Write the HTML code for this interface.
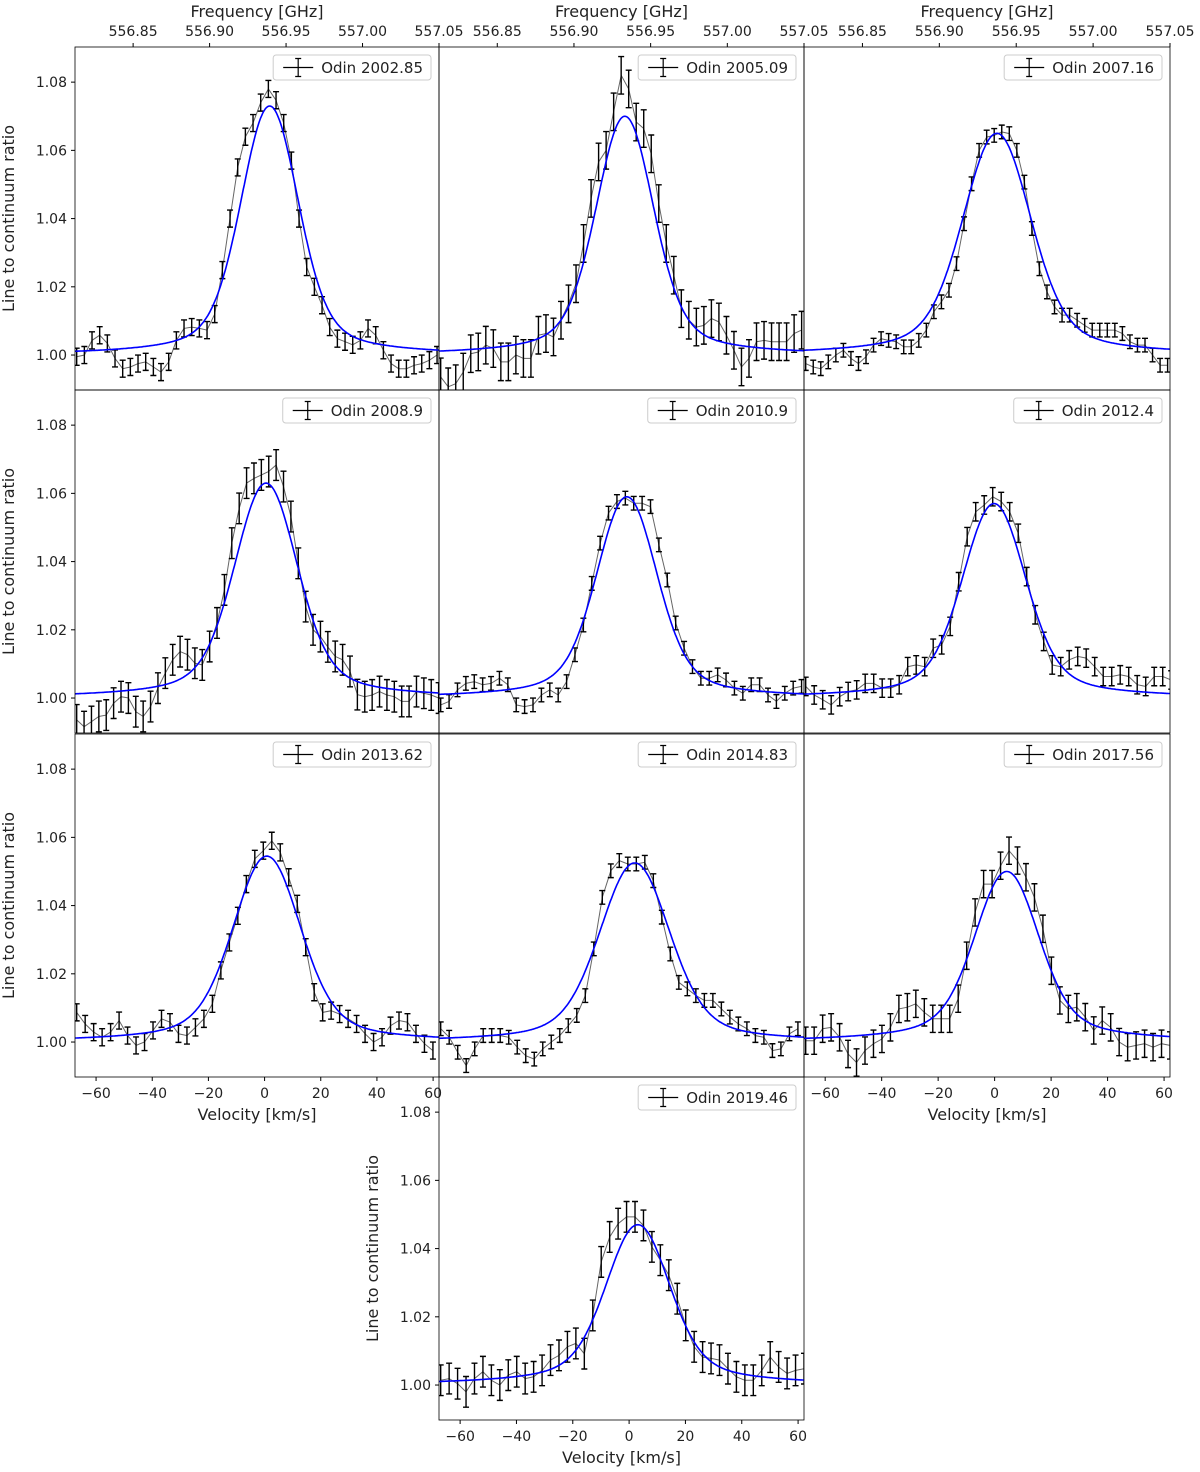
<!DOCTYPE html>
<html><head><meta charset="utf-8"><style>
body{margin:0;background:#fff;}
svg{display:block;font-family:"DejaVu Sans","Liberation Sans",sans-serif;}
</style></head><body>
<svg id="chart" width="1200" height="1472"></svg>
<script>
const panelLabels=["Odin 2002.85","Odin 2005.09","Odin 2007.16","Odin 2008.9","Odin 2010.9","Odin 2012.4","Odin 2013.62","Odin 2014.83","Odin 2017.56","Odin 2019.46"];
const vStart=[-66.9,-66.9,-66.9,-66.9,-66.9,-66.9,-66.9,-66.9,-66.9,-66.9];
const vStep=[2.73,2.67,2.67,2.63,2.98,3.01,3.02,3.02,3.0,3.0];
const errHalf=[0.0025,0.0055,0.002,0.0045,0.002,0.0027,0.0025,0.002,0.004,0.0045];
const fitAmp=[0.073,0.070,0.065,0.063,0.059,0.057,0.0545,0.0525,0.050,0.047];
const fitCen=[1.8,-1.5,0.8,0.5,-0.8,-0.2,0.8,2.0,4.3,3.1];
const fitWg=[11.5,11.5,13.5,12.5,12,12.5,13.5,14,12.5,12.5];
const fitWl=[16,16,19,18,17,18,19,19,20,20];
const fitEta=[0.3,0.3,0.3,0.3,0.3,0.3,0.3,0.3,0.3,0.3];
const d0=[0.9995,1.000,1.0043,1.0058,1.0034,0.999,0.996,0.9965,0.9975,0.998,0.9965,0.995,0.998,1.0043,1.0078,1.0082,1.0078,1.0073,1.012,1.0249,1.040,1.055,1.064,1.068,1.074,1.078,1.0747,1.068,1.057,1.040,1.0258,1.020,1.0146,1.0082,1.0048,1.0039,1.003,1.0043,1.0078,1.0058,1.0014,0.9975,0.996,0.996,0.997,0.9975,0.9985,1.000];
const d1=[0.9936,0.9907,0.9916,0.995,1.0004,1.0009,1.0029,1.0019,0.998,0.998,1.0,0.999,0.999,1.0058,1.0063,1.0053,1.0102,1.015,1.0209,1.0327,1.0459,1.0566,1.060,1.0713,1.082,1.078,1.0683,1.0664,1.059,1.0444,1.0327,1.0234,1.0136,1.0102,1.0082,1.0087,1.0107,1.0097,1.0058,1.0014,0.9965,0.999,1.0039,1.0043,1.0039,1.0039,1.0039,1.0063,1.0073];
const d2=[0.9975,0.9965,0.996,0.998,1.0,1.0014,0.999,0.9975,0.9995,1.0029,1.0048,1.0043,1.0039,1.0024,1.0024,1.0043,1.0073,1.0127,1.0156,1.019,1.0268,1.0385,1.0502,1.06,1.0639,1.0644,1.0654,1.0649,1.06,1.0507,1.0371,1.0253,1.0185,1.0141,1.0117,1.0117,1.0102,1.0087,1.0073,1.0073,1.0073,1.0073,1.0063,1.0039,1.0029,1.0029,1.0,0.997,0.997];
const d3=[0.9936,0.9916,0.9931,0.9946,0.995,0.9985,1.0004,1.0,0.996,0.9946,0.9975,1.0029,1.0073,1.0112,1.0136,1.0127,1.0102,1.0097,1.0151,1.022,1.0317,1.0454,1.0556,1.063,1.0644,1.0654,1.0664,1.0683,1.062,1.0532,1.0395,1.0268,1.02,1.018,1.015,1.0122,1.0112,1.0078,1.001,1.0004,1.0009,1.0019,1.0009,1.0004,0.999,0.999,1.0019,1.0014,1.0009,1.0];
const d4=[0.998,0.999,1.0024,1.0043,1.0048,1.0039,1.0043,1.0058,1.0039,0.998,0.9975,0.998,1.0009,1.0024,1.0009,1.0048,1.0127,1.0214,1.0336,1.0454,1.0542,1.0576,1.0586,1.0571,1.0571,1.0561,1.0449,1.0346,1.022,1.0146,1.0092,1.0058,1.0058,1.0068,1.0053,1.0029,1.0014,1.0039,1.0039,1.0009,0.999,1.0014,1.0029,1.0034];
const d5=[1.0034,1.0009,0.9995,0.998,1.0004,1.0019,1.0024,1.0043,1.0043,1.0029,1.0029,1.0039,1.0092,1.0097,1.0092,1.0146,1.0156,1.021,1.0341,1.0473,1.0546,1.0566,1.059,1.0576,1.0546,1.0483,1.0356,1.0244,1.0166,1.0097,1.0092,1.0112,1.0122,1.0117,1.0092,1.0063,1.0063,1.0068,1.0063,1.0039,1.0034,1.0063,1.0063,1.0053];
const d6=[1.0087,1.0053,1.0029,1.0014,1.0029,1.0063,1.0019,0.999,1.0,1.0034,1.0068,1.0058,1.0024,1.0019,1.0043,1.0068,1.0112,1.021,1.0292,1.037,1.0463,1.0537,1.0561,1.059,1.0556,1.0483,1.0405,1.0278,1.0146,1.0087,1.0092,1.0082,1.0068,1.0053,1.0024,1.0,1.0014,1.0048,1.0063,1.0058,1.0024,0.9995,0.9975];
const d7=[1.0039,1.0014,0.997,0.9931,0.998,1.0019,1.0019,1.0019,1.0014,0.9985,0.996,0.995,0.998,1.0,1.0019,1.0048,1.0078,1.0136,1.0273,1.0424,1.0502,1.0532,1.0522,1.0522,1.0527,1.0473,1.0366,1.0258,1.0175,1.0156,1.0136,1.0122,1.0122,1.0097,1.0073,1.0053,1.0039,1.0019,1.0014,0.9975,0.998,1.0024,1.0039];
const d8=[1.0004,1.0004,1.0039,1.0043,1.0014,0.9965,0.994,0.9975,0.9995,1.0009,1.0043,1.0097,1.0102,1.0112,1.0087,1.0068,1.0068,1.0068,1.0127,1.0253,1.038,1.0463,1.0463,1.0517,1.0561,1.0532,1.0483,1.0424,1.0332,1.0209,1.0122,1.0097,1.0102,1.0073,1.0034,1.0063,1.0043,1.0,0.9985,0.999,0.9995,0.9985,0.9995,0.999];
const d9=[1.0014,1.0019,1.0004,0.998,1.0019,1.0039,1.0014,1.0,1.0029,1.0039,1.0019,1.0024,1.0043,1.0073,1.0087,1.0112,1.0122,1.0092,1.0204,1.0361,1.0434,1.0473,1.0493,1.0493,1.0468,1.0405,1.0366,1.0322,1.0253,1.0175,1.0112,1.0082,1.0078,1.0073,1.0048,1.0024,1.0014,1.0014,1.0043,1.0082,1.0053,1.0034,1.0043,1.0048];
const yTickVals=[1.00,1.02,1.04,1.06,1.08];
const yTickText=["1.00","1.02","1.04","1.06","1.08"];
const vTickVals=[-60,-40,-20,0,20,40,60];
const vTickText=["−60","−40","−20","0","20","40","60"];
const fTickVals=[556.85,556.90,556.95,557.00,557.05];
const fTickText=["556.85","556.90","556.95","557.00","557.05"];
const allData=[d0,d1,d2,d3,d4,d5,d6,d7,d8,d9];

const NS="http://www.w3.org/2000/svg";
const svg=document.getElementById("chart");
function mk(tag,attrs,parent){const e=document.createElementNS(NS,tag);for(const k in attrs)e.setAttribute(k,attrs[k]);(parent||svg).appendChild(e);return e;}
const VMIN=-67.5,VMAX=62.1,YMIN=0.98975,YMAX=1.0903,FMIN=556.812,FMAX=557.05;
const layout=[[75,47],[439,47],[804,47],[75,390],[439,390],[804,390],[75,734],[439,734],[804,734],[439,1077]];
const PW=[364,365,366,364,365,366,364,365,366,365],PH=343;

layout.forEach((pos,i)=>{
  const [px,py]=pos,pw=PW[i];
  const sx=v=>px+(v-VMIN)/(VMAX-VMIN)*pw;
  const sy=y=>py+(YMAX-y)/(YMAX-YMIN)*PH;
  const g=mk("g",{});
  
  
  const cid="clip"+i;
  const cp=mk("clipPath",{id:cid},g);mk("rect",{x:px,y:py,width:pw,height:PH},cp);
  const plot=mk("g",{"clip-path":"url(#"+cid+")"},g);
  const data=allData[i];
  let d="";
  data.forEach((y,k)=>{const v=vStart[i]+k*vStep[i];d+=(k?"L":"M")+sx(v).toFixed(1)+" "+sy(y).toFixed(1);});
  const ln=mk("path",{d:d,fill:"none",stroke:"#666","stroke-width":1},plot);
  
  
  data.forEach((y,k)=>{
    const v=vStart[i]+k*vStep[i];const x=sx(v);
    const y1=sy(y+errHalf[i]),y2=sy(y-errHalf[i]);
    const eb=mk("path",{d:`M${x} ${y1}L${x} ${y2}M${x-3} ${y1}L${x+3} ${y1}M${x-3} ${y2}L${x+3} ${y2}`,stroke:"#000","stroke-width":1.4,fill:"none"},plot);
    
    
  });
  let fd="";
  for(let s=0;s<=400;s++){
    const v=VMIN+(VMAX-VMIN)*s/400;const dx=v-fitCen[i];
    const gs=Math.exp(-Math.LN2*(dx/fitWg[i])**2);
    const lz=1/(1+(dx/fitWl[i])**2);
    const y=1+fitAmp[i]*((1-fitEta[i])*gs+fitEta[i]*lz);
    fd+=(s?"L":"M")+sx(v).toFixed(1)+" "+sy(y).toFixed(1);
  }
  const fit=mk("path",{d:fd,fill:"none",stroke:"#0000ff","stroke-width":1.6},plot);
  
  
  const fr=mk("rect",{x:px,y:py,width:pw,height:PH,fill:"none",stroke:"#000","stroke-width":0.8},g);
  
  
  const lg=mk("g",{},g);
  
  
  const box=mk("rect",{y:py+8,height:25,rx:3,fill:"#fff","fill-opacity":0.85,stroke:"#ccc","stroke-width":1},lg);
  const txt=mk("text",{y:py+26,"font-size":15,fill:"#222"},lg);txt.textContent=panelLabels[i];
  const tw=txt.getComputedTextLength();
  const right=px+pw-8,bx=right-(tw+56);
  box.setAttribute("x",bx);box.setAttribute("width",tw+56);
  txt.setAttribute("x",bx+48);
  const ly=py+20.5;
  mk("path",{d:`M${bx+10} ${ly}L${bx+40} ${ly}M${bx+25} ${ly-9}L${bx+25} ${ly+9}M${bx+22} ${ly-9}L${bx+28} ${ly-9}M${bx+22} ${ly+9}L${bx+28} ${ly+9}`,stroke:"#000","stroke-width":1.2,fill:"none"},lg);

  if(px===75||i===9){
    yTickVals.forEach((t,k)=>{
      const y=sy(t);
      mk("line",{x1:px-4,x2:px,y1:y,y2:y,stroke:"#000"},g);
      const tt=mk("text",{x:px-8,y:y+5,"font-size":14,"text-anchor":"end",fill:"#222"},g);tt.textContent=yTickText[k];
      
      
    });
    const yl=mk("text",{x:0,y:0,"font-size":16,"text-anchor":"middle",fill:"#222",transform:`translate(${px-61},${py+PH/2}) rotate(-90)`},g);
    yl.textContent="Line to continuum ratio";
    
    
  }
  if(py===47){
    const fx=f=>px+(f-FMIN)/(FMAX-FMIN)*pw;
    fTickVals.forEach((t,k)=>{
      const x=fx(t);
      mk("line",{x1:x,x2:x,y1:py-4,y2:py,stroke:"#000"},g);
      const tt=mk("text",{x:x,y:py-11,"font-size":14,"text-anchor":"middle",fill:"#222"},g);tt.textContent=fTickText[k];
      
      
    });
    const ft=mk("text",{x:px+pw/2,y:py-30,"font-size":16,"text-anchor":"middle",fill:"#222"},g);ft.textContent="Frequency [GHz]";
    
    
  }
  if(i===6||i===8||i===9){
    vTickVals.forEach((t,k)=>{
      const x=sx(t);
      mk("line",{x1:x,x2:x,y1:py+PH,y2:py+PH+4,stroke:"#000"},g);
      const tt=mk("text",{x:x,y:py+PH+21,"font-size":14,"text-anchor":"middle",fill:"#222"},g);tt.textContent=vTickText[k];
      
      
    });
    const vt=mk("text",{x:px+pw/2,y:py+PH+43,"font-size":16,"text-anchor":"middle",fill:"#222"},g);vt.textContent="Velocity [km/s]";
    
    
  }
});
</script>
</body></html>
